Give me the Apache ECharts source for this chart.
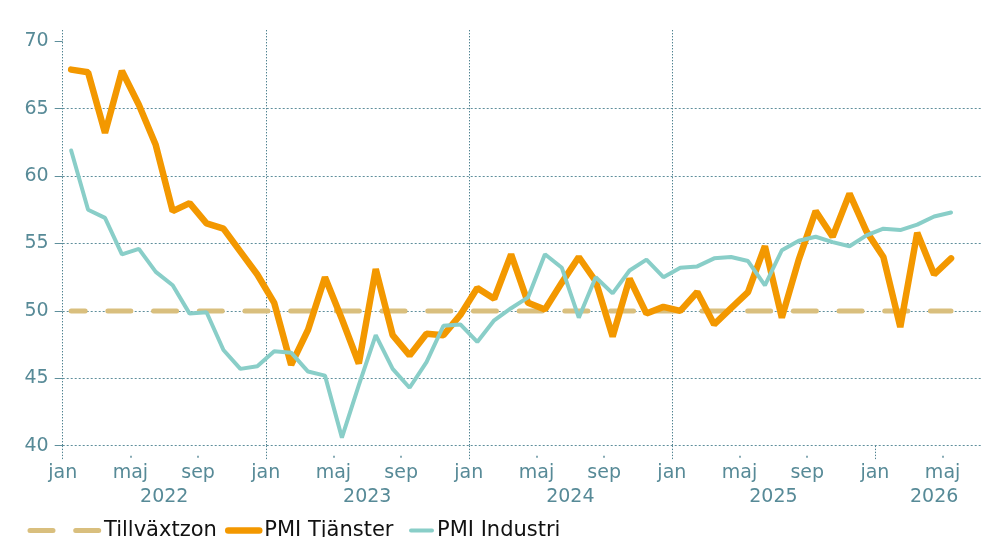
<!DOCTYPE html>
<html><head><meta charset="utf-8">
<script src="https://cdn.jsdelivr.net/npm/echarts@6/dist/echarts.min.js"></script>
<style>html,body{margin:0;padding:0;background:#fff}#c{width:981px;height:537px}</style>
</head><body><div id="c"></div>
<script>
// Monthly data, Jan 2022 .. May 2026 (index 0 = jan 2022)
const monthTickLabels = ['jan', 'maj', 'sep'];
const yearLabels = ['2022', '2023', '2024', '2025', '2026'];
const yTicks = [40, 45, 50, 55, 60, 65, 70];

const pmiTjanster = [
  67.9, 67.7, 63.2, 67.8, 65.3, 62.3, 57.4, 58.0, 56.5, 56.1, 54.4, 52.7,
  50.6, 46.0, 48.6, 52.5, 49.4, 46.1, 53.1, 48.2, 46.7, 48.3, 48.2, 49.7,
  51.7, 50.9, 54.2, 50.6, 50.1, 52.1, 54.0, 52.2, 48.1, 52.4, 49.8, 50.3,
  50.0, 51.4, 49.0, 50.2, 51.4, 54.8, 49.5, 53.8, 57.4, 55.5, 58.7, 55.9,
  54.0, 48.8, 55.8, 52.7, 53.9
];
const pmiIndustri = [
  61.9, 57.5, 56.9, 54.2, 54.6, 52.9, 51.9, 49.8, 49.9, 47.1, 45.7, 45.9,
  47.0, 46.9, 45.5, 45.2, 40.6, 44.5, 48.2, 45.7, 44.3, 46.2, 48.9, 49.0,
  47.7, 49.3, 50.2, 51.0, 54.2, 53.2, 49.5, 52.5, 51.3, 53.0, 53.8, 52.5,
  53.2, 53.3, 53.9, 54.0, 53.7, 51.9, 54.5, 55.2, 55.5, 55.1, 54.8, 55.6,
  56.1, 56.0, 56.4, 57.0, 57.3
];
const tillvaxtzon = [50, 50]; // first and last month

const axisCol = '#578a97';
const gridCol = '#5f8f9c';
const vGridCol = '#4f8290';
const FONT = 'DejaVu Sans';

// x position: month index, points at mid-month
const toXY = arr => arr.map((v, i) => [i + 0.5, v]);
const lastIdx = pmiTjanster.length - 1;
const labelVals = [];
for (let m = 0; m <= lastIdx; m += 4) labelVals.push(m);
const janVals = labelVals.filter(v => v % 12 === 0);
const minorVals = labelVals.filter(v => v % 12 !== 0);
const yearVals = [6, 18, 30, 42, 51.5];
const X_MAX = 54.27;

const hiddenSymbol = {opacity: 0, color: 'transparent', borderWidth: 0};
const legendText = {color: '#111', fontSize: 21, fontFamily: FONT};

const chart = echarts.init(document.getElementById('c'), null, {renderer: 'canvas'});
chart.setOption({
  animation: false,
  backgroundColor: '#fff',
  grid: {left: 62.7, right: 0, top: 30, bottom: 91.3, containLabel: false, outerBoundsMode: 'none'},
  xAxis: [
    {
      type: 'value', min: 0, max: X_MAX, interval: 12, position: 'bottom',
      axisLine: {show: false},
      axisTick: {show: true, length: 14, customValues: janVals,
        lineStyle: {color: vGridCol, width: 1, type: [1.4, 1.6]}},
      axisLabel: {show: true, customValues: labelVals, margin: 18,
        color: axisCol, fontSize: 19, fontFamily: FONT,
        formatter: v => monthTickLabels[Math.round(v / 4) % 3]},
      splitLine: {show: true, showMinLine: true, showMaxLine: false,
        lineStyle: {color: vGridCol, width: 1, type: [1.4, 1.6]}}
    },
    {
      type: 'value', min: 0, max: X_MAX, position: 'bottom', offset: 10,
      axisLine: {show: false},
      axisTick: {show: true, length: 2, customValues: minorVals,
        lineStyle: {color: gridCol, width: 1.5}},
      axisLabel: {show: false},
      splitLine: {show: false}
    },
    {
      type: 'value', min: 0, max: X_MAX, position: 'bottom',
      axisLine: {show: false},
      axisTick: {show: false},
      axisLabel: {show: true, customValues: yearVals, margin: 42,
        color: axisCol, fontSize: 19, fontFamily: FONT,
        formatter: v => yearLabels[Math.floor(v / 12)]},
      splitLine: {show: false}
    }
  ],
  yAxis: {
    type: 'value', min: 40, max: 70.84, interval: 5,
    axisLine: {show: false},
    axisTick: {show: true, length: 8, customValues: yTicks,
      lineStyle: {color: gridCol, width: 1}},
    axisLabel: {customValues: yTicks, margin: 14, color: axisCol,
      fontSize: 19, fontFamily: FONT},
    splitLine: {show: true, showMinLine: true, showMaxLine: false,
      lineStyle: {color: gridCol, width: 1, type: [2, 2]}}
  },
  legend: [
    {data: ['Tillväxtzon'], left: 27.5, top: 520, padding: 0,
     itemWidth: 69, itemHeight: 16, itemStyle: hiddenSymbol,
     lineStyle: {width: 5, dashOffset: 0, cap: 'round'},
     textStyle: legendText},
    {data: ['PMI Tjänster'], left: 225, top: 520, padding: 0,
     itemWidth: 31, itemHeight: 16, itemStyle: hiddenSymbol,
     lineStyle: {width: 6.5, cap: 'round'},
     textStyle: legendText},
    {data: ['PMI Industri'], left: 409, top: 520, padding: 0,
     itemWidth: 21, itemHeight: 16, itemStyle: hiddenSymbol,
     lineStyle: {width: 4, cap: 'round'},
     textStyle: legendText}
  ],
  series: [
    {
      name: 'Tillväxtzon', type: 'line', z: 2,
      data: [[0.5, tillvaxtzon[0]], [lastIdx + 0.5, tillvaxtzon[1]]],
      symbol: 'none', showSymbol: false, silent: true,
      lineStyle: {color: '#d9bf7e', width: 5, type: [23, 22.7], dashOffset: 9, cap: 'round'},
      itemStyle: {color: '#d9bf7e'}
    },
    {
      name: 'PMI Tjänster', type: 'line', z: 3,
      data: toXY(pmiTjanster),
      symbol: 'none', showSymbol: false,
      lineStyle: {color: '#f39800', width: 6.5, cap: 'round'},
      itemStyle: {color: '#f39800'}
    },
    {
      name: 'PMI Industri', type: 'line', z: 4,
      data: toXY(pmiIndustri),
      symbol: 'none', showSymbol: false,
      lineStyle: {color: '#89cec8', width: 4, cap: 'round'},
      itemStyle: {color: '#89cec8'}
    }
  ]
});
</script>
</body></html>
